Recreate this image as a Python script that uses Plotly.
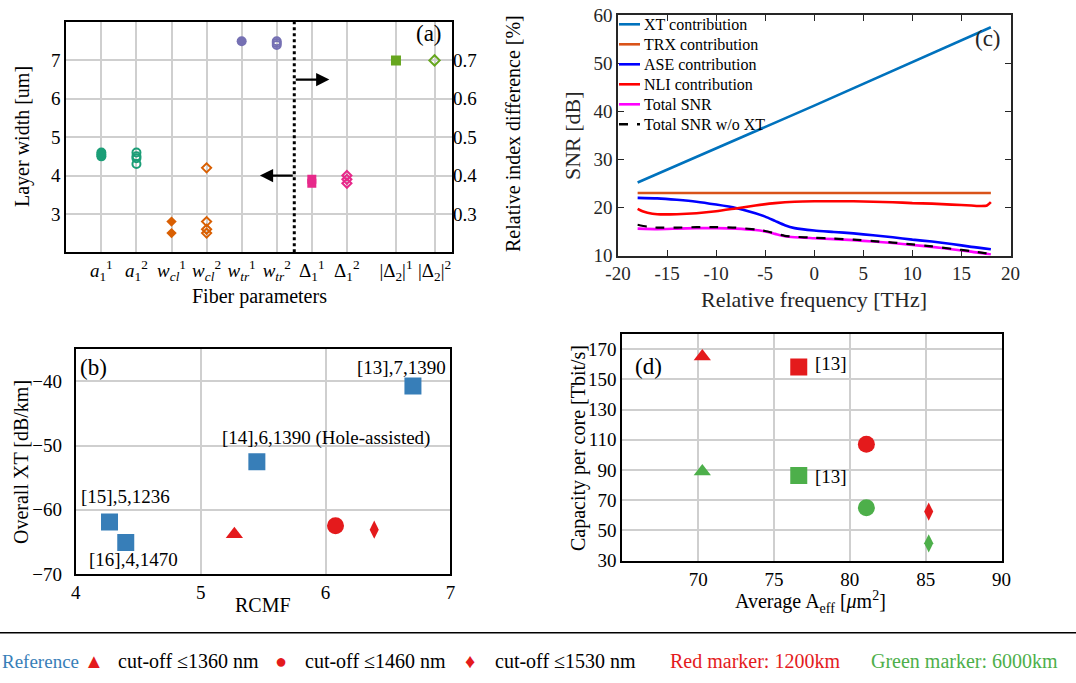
import plotly.graph_objects as go

W, H = 1076, 683
SERIF = "Liberation Serif, Times New Roman, serif"

# ---------------- Panel (a) data ----------------
a_tick_pos = [1, 2, 3, 4, 5, 6, 7, 8, 9.4, 10.5]
a_tick_text = [
    "<i>a</i><sub>1</sub><sup>1</sup>", "<i>a</i><sub>1</sub><sup>2</sup>",
    "<i>w</i><sub><i>cl</i></sub><sup>1</sup>", "<i>w</i><sub><i>cl</i></sub><sup>2</sup>",
    "<i>w</i><sub><i>tr</i></sub><sup>1</sup>", "<i>w</i><sub><i>tr</i></sub><sup>2</sup>",
    "Δ<sub>1</sub><sup>1</sup>", "Δ<sub>1</sub><sup>2</sup>",
    "|Δ<sub>2</sub>|<sup>1</sup>", "|Δ<sub>2</sub>|<sup>2</sup>",
]
a11_vals = [4.5, 4.55, 4.6]
a12_vals = [4.6, 4.5, 4.45, 4.3]
wcl1_vals = [2.8, 2.5]
wcl2_vals = [4.2, 2.8, 2.6, 2.5]
wtr1_vals = [7.5]
wtr2_vals = [7.5, 7.45, 7.4]
d11_vals = [0.38, 0.39]
d12_vals = [0.40, 0.39, 0.38]
d21_vals = [0.70]
d22_vals = [0.70]
divider_x = 6.5
left_arrow = dict(x_tail=6.5, x_tip=5.52, y=4.0)
right_arrow = dict(x_tail=6.5, x_tip=7.5, y=6.5)

# ---------------- Panel (c) data ----------------
xt_freq = [-18, 0, 18]
xt_snr = [25.2, 41.2, 57.5]
trx_freq = [-18, 18]
trx_snr = [23.0, 23.0]
grid_freq = [-18, -16, -14, -12, -10, -8, -6, -5, -4, -3, -2, 0, 2, 4, 6, 8, 10, 12, 14, 16, 18]
ase_snr = [22.0, 21.9, 21.6, 21.2, 20.6, 19.9, 18.8, 18.1, 17.2, 16.3, 15.7, 15.2, 14.9, 14.6,
           14.2, 13.8, 13.3, 12.9, 12.4, 11.8, 11.3]
total_snr = [15.6, 15.5, 15.6, 15.7, 15.7, 15.6, 15.3, 15.0, 14.5, 14.0, 13.8, 13.6, 13.4, 13.2,
             12.9, 12.6, 12.2, 11.8, 11.3, 10.8, 10.2]
nli_freq = [-18, -17.5, -17, -16, -14, -12, -10, -8, -6, -4, -2, 0, 2, 4, 6, 8, 10, 12, 14, 16,
            17, 17.6, 18]
nli_snr = [19.7, 19.2, 18.9, 18.6, 18.6, 18.8, 19.2, 19.8, 20.4, 20.9, 21.2, 21.3, 21.3, 21.3,
           21.2, 21.1, 20.9, 20.8, 20.6, 20.4, 20.3, 20.4, 21.1]
woxt_freq = [-18, -17, -16, -14, -12, -10, -8, -6, -5, -4, -3, -2, 0, 2, 4, 6, 8, 10, 12, 14, 16, 18]
woxt_snr = [16.4, 16.0, 15.8, 15.8, 15.9, 15.9, 15.8, 15.4, 15.1, 14.6, 14.1, 13.9, 13.7, 13.5,
            13.3, 13.0, 12.7, 12.3, 11.9, 11.4, 10.9, 10.3]
c_names = ["XT contribution", "TRX contribution", "ASE contribution", "NLI contribution",
           "Total SNR", "Total SNR w/o XT"]
c_colors = ["#0072BD", "#D95319", "#0000FF", "#FF0000", "#FF00FF", "#000000"]

# ---------------- Panel (b) data ----------------
ref_rcmf = [6.70, 5.45, 4.27, 4.40]
ref_xt = [-40.7, -52.5, -61.9, -65.1]
ref_labels = ["[13],7,1390", "[14],6,1390 (Hole-assisted)", "[15],5,1236", "[16],4,1470"]
new_rcmf = [5.27, 6.08, 6.39]
new_xt = [-63.8, -62.5, -63.1]

# ---------------- Panel (d) data ----------------
aeff = [70.27, 76.63, 81.09, 85.2]
cap_red = [165.1, 158.1, 107.1, 62.5]
cap_green = [89.0, 86.3, 65.1, 41.5]
d_symbols = ["triangle-up", "square", "circle", "diamond-tall"]
d_sizes = [15, 17, 17, 13]

BLUE, RED, GREEN = "#377eb8", "#e41a1c", "#4daf4a"

fig = go.Figure()

# ---- panel (a) traces
def a_trace(pos, vals, color, symbol, size, yaxis="y", open_=False):
    return go.Scatter(
        x=[pos] * len(vals), y=vals, mode="markers", xaxis="x", yaxis=yaxis, showlegend=False,
        marker=dict(symbol=symbol, size=size, color=color, opacity=1,
                    line=dict(color=color, width=2 if open_ else 0)),
    )

fig.add_trace(a_trace(a_tick_pos[0], a11_vals, "#1b9e77", "circle", 10))
fig.add_trace(a_trace(a_tick_pos[1], a12_vals, "#1b9e77", "circle-open", 8, open_=True))
fig.add_trace(a_trace(a_tick_pos[2], wcl1_vals, "#d95f02", "diamond", 8))
fig.add_trace(a_trace(a_tick_pos[3], wcl2_vals, "#d95f02", "diamond-open", 7, open_=True))
fig.add_trace(a_trace(a_tick_pos[4], wtr1_vals, "#7570b3", "circle", 10))
fig.add_trace(a_trace(a_tick_pos[5], wtr2_vals, "#7570b3", "circle-open", 8, open_=True))
fig.add_trace(a_trace(a_tick_pos[6], d11_vals, "#e7298a", "square", 9, yaxis="y5"))
fig.add_trace(a_trace(a_tick_pos[7], d12_vals, "#e7298a", "diamond-open", 7, yaxis="y5", open_=True))
fig.add_trace(a_trace(a_tick_pos[8], d21_vals, "#66a61e", "square", 10, yaxis="y5"))
fig.add_trace(a_trace(a_tick_pos[9], d22_vals, "#66a61e", "diamond-open", 8, yaxis="y5", open_=True))

# ---- panel (c) traces
c_x = [xt_freq, trx_freq, grid_freq, nli_freq, grid_freq, woxt_freq]
c_y = [xt_snr, trx_snr, ase_snr, nli_snr, total_snr, woxt_snr]
for i in range(6):
    fig.add_trace(go.Scatter(
        x=c_x[i], y=c_y[i], mode="lines", xaxis="x2", yaxis="y2", showlegend=False,
        line=dict(color=c_colors[i], width=2.6 if i < 5 else 2.2,
                  dash="dash" if i == 5 else "solid", shape="spline", smoothing=0.6),
    ))

# ---- panel (b) traces
fig.add_trace(go.Scatter(x=ref_rcmf, y=ref_xt, mode="markers", xaxis="x3", yaxis="y3",
                         showlegend=False,
                         marker=dict(symbol="square", size=17, color=BLUE, opacity=1,
                                     line=dict(width=0))))
fig.add_trace(go.Scatter(x=new_rcmf, y=new_xt, mode="markers", xaxis="x3", yaxis="y3",
                         showlegend=False,
                         marker=dict(symbol=["triangle-up", "circle", "diamond-tall"],
                                     size=[15, 17, 13], color=RED, opacity=1,
                                     line=dict(width=0))))

# ---- panel (d) traces
fig.add_trace(go.Scatter(x=aeff, y=cap_red, mode="markers", xaxis="x4", yaxis="y4",
                         showlegend=False,
                         marker=dict(symbol=d_symbols, size=d_sizes, color=RED, opacity=1,
                                     line=dict(width=0))))
fig.add_trace(go.Scatter(x=aeff, y=cap_green, mode="markers", xaxis="x4", yaxis="y4",
                         showlegend=False,
                         marker=dict(symbol=d_symbols, size=d_sizes, color=GREEN, opacity=1,
                                     line=dict(width=0))))

GRID = "#cfcfcf"
cm_font = dict(family=SERIF, size=19, color="black")
times_font = dict(family=SERIF, size=19, color="#262626")

def px(x):
    return x / W

def py(y):
    return 1 - y / H

common_box = dict(showline=True, linecolor="black", linewidth=2, mirror=True, zeroline=False,
                  showgrid=True, gridcolor=GRID, gridwidth=1.5, tickfont=cm_font, ticks="",
                  automargin=False)
c_box = dict(showline=True, linecolor="#262626", linewidth=1.5, mirror="ticks",
             ticks="inside", ticklen=6, tickcolor="#262626", tickwidth=1.2,
             showgrid=False, zeroline=False, tickfont=times_font, automargin=False)

fig.update_layout(
    template="none",
    width=W, height=H, margin=dict(l=0, r=0, t=0, b=0, pad=0, autoexpand=False),
    paper_bgcolor="white", plot_bgcolor="white", showlegend=False,
    font=dict(family=SERIF, color="black"),
    # (a)
    xaxis=dict(domain=[px(66.3), px(452.1)], range=[0, 11], anchor="y",
               tickvals=a_tick_pos, ticktext=a_tick_text, **common_box),
    yaxis=dict(domain=[py(252.3), py(22)], range=[2, 8], anchor="x",
               tickvals=[3, 4, 5, 6, 7], **common_box),
    yaxis5=dict(overlaying="y", side="right", anchor="x", range=[0.2, 0.8],
                tickvals=[0.3, 0.4, 0.5, 0.6, 0.7], ticktext=["0.3", "0.4", "0.5", "0.6", "0.7"],
                showgrid=False, zeroline=False, showline=False, tickfont=cm_font,
                automargin=False),
    # (c)
    xaxis2=dict(domain=[px(618), px(1010.5)], range=[-20, 20], anchor="y2",
                tickvals=[-20, -15, -10, -5, 0, 5, 10, 15, 20],
                ticktext=["-20", "-15", "-10", "-5", "0", "5", "10", "15", "20"], **c_box),
    yaxis2=dict(domain=[py(255.5), py(15.3)], range=[10, 60], anchor="x2",
                tickvals=[10, 20, 30, 40, 50, 60], **c_box),
    # (b)
    xaxis3=dict(domain=[px(75.8), px(450.4)], range=[4, 7], anchor="y3",
                tickvals=[4, 5, 6, 7], **common_box),
    yaxis3=dict(domain=[py(574), py(349.3)], range=[-70, -35], anchor="x3",
                tickvals=[-70, -60, -50, -40], ticklabelstandoff=8, **common_box),
    # (d)
    xaxis4=dict(domain=[px(622.4), px(1001.5)], range=[65, 90], anchor="y4",
                tickvals=[70, 75, 80, 85, 90], **common_box),
    yaxis4=dict(domain=[py(560.7), py(334)], range=[30, 180], anchor="x4",
                tickvals=[30, 50, 70, 90, 110, 130, 150, 170], **common_box),
)

ann = []
def txt(text, x, y, size=19, color="black", xref="paper", yref="paper", angle=0,
        xanchor="center", yanchor="middle", **kw):
    ann.append(dict(text=text, x=x, y=y, xref=xref, yref=yref, showarrow=False,
                    textangle=angle, xanchor=xanchor, yanchor=yanchor,
                    font=dict(family=SERIF, size=size, color=color), **kw))

# axis titles
txt("Layer width [um]", px(22), py(137), size=20, angle=-90)
txt("Relative index difference [%]", px(513), py(134), size=20, angle=-90)
txt("Fiber parameters", px(259), py(297), size=20)
txt("SNR [dB]", px(572), py(136), size=22, angle=-90, color="#262626")
txt("Relative frequency [THz]", px(814), py(299), size=22, color="#262626")
txt("Overall XT [dB/km]", px(21), py(462), size=20, angle=-90)
txt("RCMF", px(263), py(605), size=20)
txt("Capacity per core [Tbit/s]", px(578), py(448), size=20, angle=-90)
txt("Average A<sub>eff</sub> [<i>μ</i>m<sup>2</sup>]", px(810), py(602), size=20)

# panel letters
txt("(a)", 10.33, 7.70, size=23, xref="x", yref="y")
txt("(c)", 17.7, 55.2, size=23, xref="x2", yref="y2", color="#262626")
txt("(b)", 4.14, -37.8, size=23, xref="x3", yref="y3")
txt("(d)", 66.7, 158.5, size=23, xref="x4", yref="y4")

# panel (b) labels next to reference points
b_shifts = [(-11, 18), (69, 24), (16, 26), (8, -17)]
for i, lab in enumerate(ref_labels):
    txt(lab, ref_rcmf[i], ref_xt[i], size=19, xref="x3", yref="y3",
        xshift=b_shifts[i][0], yshift=b_shifts[i][1])

# panel (d) labels next to [13] squares
txt("[13]", aeff[1], cap_red[1], size=19, xref="x4", yref="y4", xanchor="left", xshift=14, yshift=4)
txt("[13]", aeff[1], cap_green[1], size=19, xref="x4", yref="y4", xanchor="left", xshift=14, yshift=-1)

# panel (a) arrows
for arr in (left_arrow, right_arrow):
    ann.append(dict(x=arr["x_tip"], y=arr["y"], ax=arr["x_tail"], ay=arr["y"],
                    xref="x", yref="y", axref="x", ayref="y", text="", showarrow=True,
                    arrowhead=2, arrowsize=1.2, arrowwidth=2.2, arrowcolor="black"))

# panel (c) legend (manual, MATLAB-like)
shapes = []
for i, name in enumerate(c_names):
    yrow = 24.3 + 20 * i
    shapes.append(dict(type="line", xref="paper", yref="paper", x0=px(619), x1=px(640),
                       y0=py(yrow), y1=py(yrow),
                       line=dict(color=c_colors[i], width=2.6, dash="dash" if i == 5 else "solid")))
    txt(name, px(641.5), py(yrow), size=16, xanchor="left", color="black")

# divider in panel (a)
shapes.append(dict(type="line", xref="x", yref="y domain", x0=divider_x, x1=divider_x, y0=0, y1=1,
                   line=dict(color="black", width=3, dash="dot")))

# bottom separator and legend
shapes.append(dict(type="line", xref="paper", yref="paper", x0=0, x1=1, y0=py(632.7), y1=py(632.7),
                   line=dict(color="black", width=1.5)))
yl = py(661)
txt("Reference", 0, yl, size=19, color=BLUE, xanchor="left")
txt("▲", px(94), yl, size=20, color=RED)
txt("cut-off ≤1360 nm", px(188), yl, size=20)
txt("●", px(281), yl, size=20, color=RED)
txt("cut-off ≤1460 nm", px(375), yl, size=20)
txt("♦", px(470), yl, size=20, color=RED)
txt("cut-off ≤1530 nm", px(565), yl, size=20)
txt("Red marker: 1200km", px(755), yl, size=20, color=RED)
txt("Green marker: 6000km", px(964), yl, size=20, color=GREEN)

fig.update_layout(annotations=ann, shapes=shapes)
fig.write_html("out.html",
               config={"displayModeBar": False},
               post_script="document.body.style.margin='0';document.body.style.padding='0';"
                           "document.body.style.overflow='hidden';")
